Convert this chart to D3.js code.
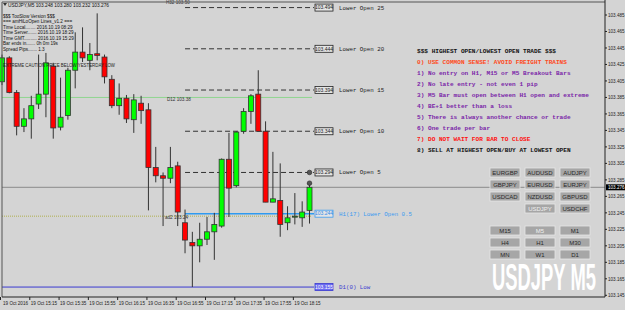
<!DOCTYPE html>
<html>
<head>
<meta charset="utf-8">
<script src="https://cdn.jsdelivr.net/npm/d3@7"></script>
<style>
  body { margin: 0; background: #d4d4d4; }
  svg { display: block; }
</style>
</head>
<body>
<svg width="625" height="310"></svg>
<script>
// USDJPY M5 bars, 14:55 .. 18:25
const opens  = [103.404,103.433,103.391,103.350,103.359,103.377,103.389,103.423,103.349,103.363,103.418,103.440,103.430,103.438,103.434,103.407,103.375,103.384,103.358,103.378,103.370,103.300,103.290,103.287,103.302,103.233,103.209,103.205,103.213,103.222,103.229,103.310,103.278,103.344,103.368,103.389,103.344,103.258,103.260,103.233,103.241,103.239,103.248];
const highs  = [103.437,103.435,103.394,103.372,103.387,103.437,103.439,103.427,103.409,103.421,103.464,103.470,103.451,103.487,103.437,103.412,103.402,103.388,103.389,103.387,103.378,103.325,103.294,103.325,103.307,103.249,103.222,103.233,103.240,103.245,103.311,103.342,103.344,103.372,103.389,103.418,103.356,103.319,103.305,103.253,103.269,103.259,103.280];
const lows   = [103.400,103.390,103.339,103.343,103.335,103.371,103.361,103.335,103.345,103.358,103.396,103.428,103.418,103.430,103.402,103.372,103.364,103.354,103.342,103.353,103.248,103.282,103.229,103.281,103.229,103.196,103.155,103.185,103.206,103.188,103.227,103.240,103.276,103.341,103.353,103.344,103.258,103.258,103.216,103.224,103.231,103.228,103.232];
const closes = [103.433,103.391,103.350,103.359,103.375,103.389,103.427,103.348,103.361,103.418,103.440,103.433,103.437,103.436,103.410,103.375,103.384,103.359,103.382,103.369,103.300,103.290,103.287,103.300,103.246,103.212,103.205,103.213,103.222,103.231,103.310,103.275,103.343,103.368,103.387,103.344,103.258,103.262,103.231,103.239,103.241,103.246,103.276];

const timeTickBars = [0, 4, 8, 12, 16, 20, 24, 28, 32, 36, 40];
const timeTickLabels = ["19 Oct 2016","19 Oct 15:15","19 Oct 15:35","19 Oct 15:55","19 Oct 16:15","19 Oct 16:35","19 Oct 16:55","19 Oct 17:15","19 Oct 17:35","19 Oct 17:55","19 Oct 18:15"];
const priceTicks = [103.485,103.465,103.445,103.425,103.405,103.385,103.365,103.345,103.325,103.305,103.285,103.265,103.245,103.225,103.205,103.185,103.165,103.145];
const bidPrice = 103.276;

const levelNames  = ["Lower Open 25","Lower Open 20","Lower Open 15","Lower Open 10","Lower Open 5"];
const levelPrices = [103.494,103.444,103.394,103.344,103.294];
const h1Level = { name: "H1(17) Lower Open 0.5", price: 103.244 };
const d1Low = { name: "D1(0) Low", price: 103.155 };
const d1Line = { name: "D12  103.38", price: 103.385 };
const m30Line = { name: "ad2  103.24", price: 103.241 };
const h1Top = { name: "H32  103.50", price: 103.500 };
const levelStartBar = 25;
const markerPrices = [103.294, 103.281];

const infoLines = ["$$$ TooSlow Version $$$","=== amHiLoOpen Lines_v1.2 ===","Time Local........ 2016.10.19 08:29","Time Server....... 2016.10.19 18:29","Time GMT.......... 2016.10.19 15:29","Bar ends in....... 0h 0m 19s","Spread Pips....... 1.3"];
const rules = ["$$$ HIGHEST OPEN/LOWEST OPEN TRADE $$$","0) USE COMMON SENSE!  AVOID FREIGHT TRAINS","1) No entry on H1, M15 or M5 Breakout Bars","2) No late entry - not even 1 pip","3) M5 Bar must open between H1 open and extreme","4) BE+1 better than a loss","5) There is always another chance or trade","6) One trade per bar","7) DO NOT WAIT FOR BAR TO CLOSE","8) SELL AT HIGHEST OPEN/BUY AT LOWEST OPEN"];
const ruleColors = ["#111","#ff4a1c","#7a1fa8","#7a1fa8","#7a1fa8","#7a1fa8","#7a1fa8","#7a1fa8","#ff1010","#111"];
const symbolRows = [["EURGBP","AUDUSD","AUDJPY"],["GBPJPY","EURUSD","EURJPY"],["USDCAD","NZDUSD","GBPUSD"],["","USDJPY","USDCHF"]];
const periodRows = [["M15","M5","M1"],["H4","H1","M30"],["MN","W1","D1"]];

const svg = d3.select("svg");
const W = 625, H = 310;
const pLeft = 2, pRight = 605, pTop = 2, pBottom = 297;

svg.append("rect").attr("width", W).attr("height", H).attr("fill", "#d4d4d4");

const x = d3.scaleLinear().domain([0, opens.length - 1]).range([2, 309.5]);
const y = d3.scaleLinear().domain([103.145, 103.485]).range([295.3, 15]);
const bw = 5;

const plot = svg.append("g");

// full-width lines
plot.append("line").attr("x1", pLeft).attr("x2", pRight)
  .attr("y1", y(bidPrice)).attr("y2", y(bidPrice))
  .attr("stroke", "#8a8a8a").attr("stroke-width", 1);
plot.append("line").attr("x1", pLeft).attr("x2", 312)
  .attr("y1", y(d1Line.price)).attr("y2", y(d1Line.price))
  .attr("stroke", "#7ed67e").attr("stroke-width", 0.8);
plot.append("line").attr("x1", pLeft).attr("x2", 312)
  .attr("y1", y(m30Line.price)).attr("y2", y(m30Line.price))
  .attr("stroke", "#b0b050").attr("stroke-width", 1).attr("stroke-dasharray", "1,1");
plot.append("line").attr("x1", pLeft).attr("x2", 314)
  .attr("y1", y(d1Low.price)).attr("y2", y(d1Low.price))
  .attr("stroke", "#3a3ad0").attr("stroke-width", 1);

// dashed lower-open levels
const lx0 = x(levelStartBar);
levelPrices.forEach(p => {
  plot.append("line").attr("x1", lx0).attr("x2", 314)
    .attr("y1", y(p)).attr("y2", y(p))
    .attr("stroke", "#333").attr("stroke-width", 1).attr("stroke-dasharray", "5,3");
});
plot.append("line").attr("x1", lx0).attr("x2", 314)
  .attr("y1", y(h1Level.price)).attr("y2", y(h1Level.price))
  .attr("stroke", "#2f9af0").attr("stroke-width", 1.6);

// candles
const idx = d3.range(opens.length);
plot.selectAll("line.wick").data(idx).join("line").attr("class", "wick")
  .attr("x1", i => x(i)).attr("x2", i => x(i))
  .attr("y1", i => y(highs[i])).attr("y2", i => y(lows[i]))
  .attr("stroke", "#333").attr("stroke-width", 1);
plot.selectAll("rect.body").data(idx).join("rect").attr("class", "body")
  .attr("x", i => x(i) - bw / 2)
  .attr("y", i => y(Math.max(opens[i], closes[i])))
  .attr("width", bw)
  .attr("height", i => Math.max(1, Math.abs(y(opens[i]) - y(closes[i]))))
  .attr("fill", i => closes[i] >= opens[i] ? "#00ff00" : "#ff0000")
  .attr("stroke", "#333").attr("stroke-width", 0.8);

// markers
plot.selectAll("circle.mk").data(markerPrices).join("circle").attr("class", "mk")
  .attr("cx", x(opens.length - 1)).attr("cy", d => y(d)).attr("r", 2.3)
  .attr("fill", "#555").attr("stroke", "#222").attr("stroke-width", 0.6);

// level labels
const allLevels = levelNames.map((n, i) => ({ name: n, price: levelPrices[i], kind: "lo" }))
  .concat([{ ...h1Level, kind: "h1" }, { ...d1Low, kind: "d1" }]);
allLevels.forEach(l => {
  const yy = y(l.price);
  const stroke = l.kind === "lo" ? "#222" : (l.kind === "h1" ? "#3a9af0" : "#3a3ad0");
  const fill = l.kind === "d1" ? "#6c6cf0" : "#e4e4e4";
  const tcol = l.kind === "lo" ? "#222" : (l.kind === "h1" ? "#2f8ae8" : "#fff");
  plot.append("rect").attr("x", 315).attr("y", yy - 3.5).attr("width", 18).attr("height", 7)
    .attr("fill", fill).attr("stroke", stroke).attr("stroke-width", 0.8);
  plot.append("text").attr("x", 324).attr("y", yy + 1.8).attr("text-anchor", "middle")
    .attr("font-family", "Liberation Sans, Arial").attr("font-size", 5).attr("fill", tcol)
    .text(l.price.toFixed(3));
  plot.append("text").attr("x", 339).attr("y", yy + 2)
    .attr("font-family", "Liberation Mono, Courier New").attr("font-size", 5.8)
    .attr("fill", l.kind === "lo" ? "#222" : (l.kind === "h1" ? "#3a9af0" : "#3a3ad0"))
    .text(l.name);
});

// small line labels
[[h1Top, 166, 4], [d1Line, 167, 100.5], [m30Line, 165, 218.5]].forEach(([l, tx, ty]) => {
  plot.append("text").attr("x", tx).attr("y", ty)
    .attr("font-family", "Liberation Sans, Arial").attr("font-size", 4.6).attr("fill", "#333")
    .text(l.name);
});

// frame and axes
svg.append("line").attr("x1", pLeft).attr("x2", pLeft).attr("y1", pTop).attr("y2", pBottom).attr("stroke", "#555");
svg.append("line").attr("x1", pLeft).attr("x2", pRight).attr("y1", pTop).attr("y2", pTop).attr("stroke", "#555");
svg.append("line").attr("x1", pRight).attr("x2", pRight).attr("y1", 0).attr("y2", pBottom).attr("stroke", "#222");
svg.append("line").attr("x1", pLeft).attr("x2", pRight).attr("y1", pBottom).attr("y2", pBottom).attr("stroke", "#222");

const yAxis = svg.append("g");
priceTicks.forEach(p => {
  yAxis.append("line").attr("x1", pRight).attr("x2", pRight + 2).attr("y1", y(p)).attr("y2", y(p)).attr("stroke", "#222");
  yAxis.append("text").attr("x", 608).attr("y", y(p) + 1.7)
    .attr("font-family", "Liberation Sans, Arial").attr("font-size", 4.6).attr("fill", "#222")
    .text(p.toFixed(3));
});
yAxis.append("rect").attr("x", 606).attr("y", y(bidPrice) - 3).attr("width", 19).attr("height", 6).attr("fill", "#000");
yAxis.append("text").attr("x", 608).attr("y", y(bidPrice) + 1.7)
  .attr("font-family", "Liberation Sans, Arial").attr("font-size", 4.6).attr("fill", "#fff")
  .text(bidPrice.toFixed(3));

const xAxis = svg.append("g");
timeTickBars.forEach((b, i) => {
  const tx = x(b) - 1.5;
  xAxis.append("line").attr("x1", tx).attr("x2", tx).attr("y1", pBottom).attr("y2", pBottom + 3).attr("stroke", "#222");
  xAxis.append("text").attr("x", i === 0 ? 3 : tx + 1).attr("y", 305)
    .attr("font-family", "Liberation Sans, Arial").attr("font-size", 4.6).attr("fill", "#222")
    .text(timeTickLabels[i]);
});

// header and info text
svg.append("path").attr("d", "M3,3 L7,3 L5,6 Z").attr("fill", "#333");
svg.append("text").attr("x", 8).attr("y", 6.5)
  .attr("font-family", "Liberation Sans, Arial").attr("font-size", 4.8).attr("fill", "#111")
  .text("USDJPY,M5  " + [opens, highs, lows, closes].map(a => a[a.length - 1].toFixed(3)).join(" "));
infoLines.forEach((t, i) => {
  svg.append("text").attr("x", 3).attr("y", 17.5 + i * 5.5)
    .attr("font-family", "Liberation Sans, Arial").attr("font-size", 4.6).attr("fill", "#111")
    .text(t);
});
svg.append("text").attr("x", 3).attr("y", 66.5).attr("textLength", 112).attr("lengthAdjust", "spacingAndGlyphs")
  .attr("font-family", "Liberation Sans, Arial").attr("font-size", 5.2).attr("fill", "#222")
  .text("EXTREME CAUTION PRICE BELOW YESTERDAY LOW");

// trading rules
rules.forEach((t, i) => {
  svg.append("text").attr("x", 417).attr("y", 52.5 + i * 11)
    .attr("font-family", "Liberation Mono, Courier New").attr("font-size", 6.1).attr("font-weight", "bold")
    .attr("fill", ruleColors[i]).text(t);
});

// buttons
function buttons(rows, y0, selected) {
  rows.forEach((row, r) => {
    row.forEach((lab, c) => {
      if (!lab) return;
      const bx = 490 + c * 35, by = y0 + r * 12;
      svg.append("rect").attr("x", bx).attr("y", by).attr("width", 30).attr("height", 9)
        .attr("fill", "#a6a6a6").attr("stroke", "#e6e6e6").attr("stroke-width", 0.8);
      svg.append("text").attr("x", bx + 15).attr("y", by + 6.6).attr("text-anchor", "middle")
        .attr("font-family", "Liberation Sans, Arial").attr("font-size", 6)
        .attr("fill", lab === selected ? "#f0f0f0" : "#2a2a2a").text(lab);
    });
  });
}
buttons(symbolRows, 168, "USDJPY");
buttons(periodRows, 226, "M5");

// big symbol watermark, squeezed horizontally to fit its box
const big = svg.append("g").attr("transform", "translate(492,290)");
const bigText = big.append("text").attr("x", 0).attr("y", 0)
  .attr("font-family", "Liberation Sans, Arial").attr("font-weight", "bold").attr("font-size", 37)
  .attr("fill", "#ffffff").text("USDJPY M5");
const natW = bigText.node().getComputedTextLength();
big.attr("transform", `translate(492,290) scale(${104 / natW},1)`);
</script>
</body>
</html>
